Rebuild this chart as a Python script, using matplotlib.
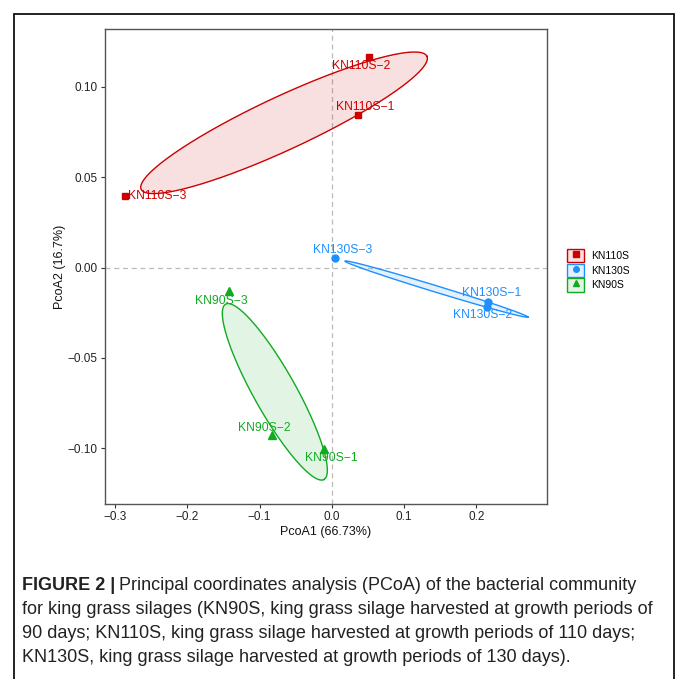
import matplotlib.pyplot as plt
import numpy as np
from matplotlib.colors import to_rgba
from matplotlib.legend_handler import HandlerTuple
from matplotlib.lines import Line2D
from matplotlib.patches import Patch, Rectangle

plt.rcParams["font.family"] = ["Liberation Sans", "DejaVu Sans"]

# PCoA scores
groups = ["KN110S", "KN130S", "KN90S"]
kn110s_x = [0.0365, 0.0517, -0.2863]
kn110s_y = [0.0842, 0.1166, 0.0395]
kn130s_x = [0.2158, 0.2149, 0.0042]
kn130s_y = [-0.0190, -0.0220, 0.0053]
kn90s_x = [-0.0110, -0.0825, -0.1429]
kn90s_y = [-0.1002, -0.0928, -0.0132]

# ellipse semi-axis vectors (data units), centred on each group mean
ellipse_major = [(0.1978, 0.0368), (0.1268, -0.0155), (0.0681, -0.0485)]
ellipse_minor = [(0.0155, -0.0134), (-0.0013, -0.0017), (0.0255, 0.0057)]

x_ticks = [-0.3, -0.2, -0.1, 0.0, 0.1, 0.2]
y_ticks = [-0.10, -0.05, 0.00, 0.05, 0.10]

caption_bold = "FIGURE 2 |"
caption_lines = [
    "Principal coordinates analysis (PCoA) of the bacterial community",
    "for king grass silages (KN90S, king grass silage harvested at growth periods of",
    "90 days; KN110S, king grass silage harvested at growth periods of 110 days;",
    "KN130S, king grass silage harvested at growth periods of 130 days).",
]

colors = ["#CC0000", "#1E8FFF", "#11AA22"]
markers = ["s", "o", "^"]
msizes = [4.5, 5, 5.5]
# label offsets in pixels (dx, dy) for each sample
label_offsets = [
    [(7, 8), (-8, -9), (32, 0)],
    [(4, 9), (-4, -8), (8, 8)],
    [(8, -9), (-8, 7), (-7, -10)],
]

xs = [kn110s_x, kn130s_x, kn90s_x]
ys = [kn110s_y, kn130s_y, kn90s_y]

fig = plt.figure(figsize=(6.76, 6.79), dpi=100)
ax = fig.add_axes([0.1549, 0.2577, 0.6543, 0.6996])

ax.axhline(0, color="#BBBBBB", lw=0.9, ls=(0, (4, 3)), zorder=0)
ax.axvline(0, color="#BBBBBB", lw=0.9, ls=(0, (4, 3)), zorder=0)

t = np.linspace(0, 2 * np.pi, 300)
for i, g in enumerate(groups):
    x = np.array(xs[i])
    y = np.array(ys[i])
    cx, cy = x.mean(), y.mean()
    ux, uy = ellipse_major[i]
    vx, vy = ellipse_minor[i]
    ex = cx + np.cos(t) * ux + np.sin(t) * vx
    ey = cy + np.cos(t) * uy + np.sin(t) * vy
    ax.fill(ex, ey, color=colors[i], alpha=0.12, lw=0, zorder=1)
    ax.plot(ex, ey, color=colors[i], lw=1.0, zorder=2)
    ax.plot(x, y, ls="", marker=markers[i], ms=msizes[i], color=colors[i], zorder=3)
    for j in range(len(x)):
        dx, dy = label_offsets[i][j]
        ax.annotate(
            f"{g}\u2212{j + 1}",
            (x[j], y[j]),
            xytext=(dx, dy),
            textcoords="offset pixels",
            ha="center",
            va="center",
            fontsize=8.7,
            color=colors[i],
            zorder=4,
        )

ax.set_xlim(-0.3143, 0.298)
ax.set_ylim(-0.1308, 0.132)
ax.set_xticks(x_ticks)
ax.set_xticklabels([f"{v:.1f}".replace("-", "\u2212") for v in x_ticks])
ax.set_yticks(y_ticks)
ax.set_yticklabels([f"{v:.2f}".replace("-", "\u2212") for v in y_ticks])
ax.tick_params(direction="out", length=3, width=0.8, colors="#333333", labelsize=8.5,
               labelcolor="#222222", pad=2)
for s in ax.spines.values():
    s.set_color("#555555")
    s.set_linewidth(1.0)
ax.set_xlabel("PcoA1 (66.73%)", fontsize=9, color="#111111", labelpad=2)
ax.set_ylabel("PcoA2 (16.7%)", fontsize=9, color="#111111", labelpad=1.4)

handles = [
    (Patch(fc=to_rgba(c, 0.12), ec=c, lw=1.0),
     Line2D([], [], ls="", marker=m, ms=4, color=c))
    for c, m in zip(colors, markers)
]
fig.legend(handles, groups, handler_map={tuple: HandlerTuple(ndivide=1)},
           loc="upper left", bbox_to_anchor=(567.3 / 676, 1 - 249 / 679),
           frameon=False, borderpad=0, borderaxespad=0, fontsize=7.5,
           handlelength=1.6, handleheight=1.6, handletextpad=0.64,
           labelspacing=0.12)

# outer frame
fig.add_artist(Rectangle((14 / 676, -0.05), 660 / 676, 1.05 - 14 / 679,
                         transform=fig.transFigure, fill=False, ec="#111111", lw=1.3))

# caption
cap_size = 13.0
bold = fig.text(22 / 676, 1 - 585 / 679, caption_bold, fontsize=cap_size,
                fontweight="bold", color="#222222", va="center")
ax.annotate(caption_lines[0], xy=(1, 0.5), xycoords=bold, xytext=(3, 0),
            textcoords="offset points", va="center", fontsize=cap_size, color="#222222")
for k, line in enumerate(caption_lines[1:]):
    fig.text(22 / 676, 1 - (609 + 24 * k) / 679, line, fontsize=cap_size,
             color="#222222", va="center")

fig.savefig("out.png", dpi=100)
